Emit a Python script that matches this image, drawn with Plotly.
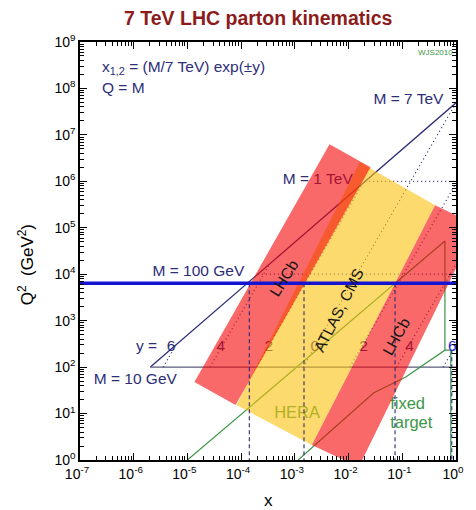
import numpy as np
import plotly.graph_objects as go

# ---------------- data ----------------
# kinematic limit Q^2 = x s  (s = (7 TeV)^2)
kin_x = [2.04e-6, 1.0]
kin_q2 = [100, 4.9e7]

# horizontal mass lines (Q = M)
m10_x = [2.04e-6, 1.0]
m10_q2 = [100, 100]
m100_x = [2.04e-4, 1.0]
m100_q2 = [1e4, 1e4]
m1000_x = [0.0204, 1.0]
m1000_q2 = [1e6, 1e6]

# lines of constant rapidity y = 6,4,2,0,-2,-4,-6
rap_labels = ["6", "4", "2", "0", "2", "4", "6"]
rap_x0 = [3.54e-6, 2.62e-5, 1.93e-4, 1.43e-3, 0.01056, 0.078, 0.576]
rap_x1 = [6.14e-6, 3.35e-4, 0.0183, 1.0, 1.0, 1.0, 1.0]
rap_q0 = [100, 100, 100, 100, 100, 100, 100]
rap_q1 = [301, 1.64e4, 8.97e5, 4.9e7, 8.97e5, 1.64e4, 301]
rap_lab_x = [4.94e-6, 4.2e-5, 3.27e-4, 2.36e-3, 0.0191, 0.137, 0.85]
rap_lab_q2 = [265, 265, 265, 265, 265, 265, 265]

# HERA and fixed-target boundaries
hera_x = [1e-5, 0.622, 0.622]
hera_q2 = [1, 5.2e4, 232]
ft_x = [1.15e-3, 0.0291, 0.116, 0.622, 0.80, 0.80]
ft_q2 = [1, 27.6, 61, 232, 232, 1]

# acceptance bands (corners)
lhcb_bwd_x = [1.35e-5, 4.42e-3, 0.0257, 7.87e-5]
lhcb_bwd_q2 = [47.6, 6.25e6, 2.0e6, 15.2]
atlas_x = [8.2e-5, 0.0162, 0.409, 2.07e-3]
atlas_q2 = [15.2, 2.56e6, 3.05e5, 2.1]
lhcb_fwd_x = [2.07e-3, 0.409, 2.48, 0.0155]
lhcb_fwd_q2 = [2.1, 3.05e5, 1.13e5, 0.707]

# W mass line and its dashed x markers
w_q2 = 6400
w_x = [1e-7, 1.0]
wdash_x = [1.42e-4, 1.48e-3, 0.0733]
wdash_q2 = [6400, 1]
edge_dash_x = 0.835
edge_dash_q2 = [232, 1]

# text labels (placed at data positions)
mlab_text = ["M = 10 GeV", "y =", "M = 100 GeV", "M = 1 TeV", "M = 7 TeV"]
mlab_x = [1.07e-6, 1.73e-6, 1.6e-5, 2.67e-3, 0.13]
mlab_q2 = [52.6, 265, 1.1e4, 1.05e6, 5.5e7]

hera_lab = ("HERA", 1.1e-3, 9.76)
ft_lab_text = ["fixed", "target"]
ft_lab_x = [0.0594, 0.0594]
ft_lab_q2 = [15.2, 5.95]

band_labels = [("LHCb", 6.15e-4, 8.2e3, -58), ("ATLAS, CMS", 6.44e-3, 1.68e3, -63),
               ("LHCb", 0.0764, 464, -61)]

x_tickvals = [1e-7, 1e-6, 1e-5, 1e-4, 1e-3, 1e-2, 1e-1, 1]
x_ticktext = ["10<sup>-7</sup>", "10<sup>-6</sup>", "10<sup>-5</sup>", "10<sup>-4</sup>",
              "10<sup>-3</sup>", "10<sup>-2</sup>", "10<sup>-1</sup>", "10<sup>0</sup>"]
y_tickvals = [1, 1e1, 1e2, 1e3, 1e4, 1e5, 1e6, 1e7, 1e8, 1e9]
y_ticktext = ["10<sup>%d</sup>" % k for k in range(10)]

# ---------------- styling ----------------
FONT = "Liberation Sans"
NAVY = "#2d2d78"
GREEN = "#3c9646"
DOT = "1px,3px"

fig = go.Figure()


def add_line(x, y, color, width=1.2, dash=None):
    fig.add_trace(go.Scatter(x=x, y=y, mode="lines",
                             line=dict(color=color, width=width, dash=dash),
                             hoverinfo="skip", showlegend=False))


# lines beneath the bands
add_line(kin_x, kin_q2, NAVY, 1.3)
add_line(m10_x, m10_q2, "#5a5a7a", 1.2)
add_line(m100_x, m100_q2, NAVY, 1.2, DOT)
add_line(m1000_x, m1000_q2, NAVY, 1.2, DOT)
for i in range(len(rap_labels)):
    add_line([rap_x0[i], rap_x1[i]], [rap_q0[i], rap_q1[i]], NAVY, 1.2, DOT)
add_line(hera_x, hera_q2, GREEN, 1.2)
add_line(ft_x, ft_q2, GREEN, 1.2)

# labels beneath the bands (so that they get tinted)
fig.add_trace(go.Scatter(x=mlab_x, y=mlab_q2, mode="text", text=mlab_text,
                         textfont=dict(family=FONT, size=15.5, color=NAVY),
                         hoverinfo="skip", showlegend=False, cliponaxis=False))
rap_colors = [NAVY] * 6 + ["#2222cc"]
fig.add_trace(go.Scatter(x=rap_lab_x, y=rap_lab_q2, mode="text", text=rap_labels,
                         textfont=dict(family=FONT, size=15.5, color=rap_colors),
                         hoverinfo="skip", showlegend=False, cliponaxis=False))
fig.add_trace(go.Scatter(x=[hera_lab[1]], y=[hera_lab[2]], mode="text", text=[hera_lab[0]],
                         textfont=dict(family=FONT, size=16.5, color=GREEN),
                         hoverinfo="skip", showlegend=False))
fig.add_trace(go.Scatter(x=ft_lab_x, y=ft_lab_q2, mode="text", text=ft_lab_text,
                         textposition="middle right",
                         textfont=dict(family=FONT, size=16.5, color=GREEN),
                         hoverinfo="skip", showlegend=False))

# bands
for bx, by, col in [(atlas_x, atlas_q2, "rgba(252,193,13,0.6)"),
                    (lhcb_bwd_x, lhcb_bwd_q2, "rgba(245,5,5,0.6)"),
                    (lhcb_fwd_x, lhcb_fwd_q2, "rgba(245,5,5,0.6)")]:
    fig.add_trace(go.Scatter(x=bx + [bx[0]], y=by + [by[0]], mode="lines", fill="toself",
                             fillcolor=col, line=dict(width=0, color=col),
                             hoverinfo="skip", showlegend=False))

# lines on top
for xv in wdash_x:
    add_line([xv, xv], wdash_q2, "#2a2a70", 1.1, "4px,3px")
add_line([edge_dash_x, edge_dash_x], edge_dash_q2, "#2a2a90", 1.1, "4px,3px")
add_line(w_x, [w_q2, w_q2], "#1414d2", 3.5)

annotations = []
for txt, ax_, ay_, ang in band_labels:
    annotations.append(dict(x=np.log10(ax_), y=np.log10(ay_), xref="x", yref="y", text=txt,
                            textangle=ang, showarrow=False, xanchor="center", yanchor="middle",
                            font=dict(family=FONT, size=15.5, color="#151515")))

annotations += [
    dict(x=0.474, y=1.058, xref="paper", yref="paper", showarrow=False,
         xanchor="center", yanchor="middle",
         text="<b>7 TeV LHC parton kinematics</b>",
         font=dict(family=FONT, size=19.5, color="#8c1c1c")),
    dict(x=-0.143, y=0.4665, xref="paper", yref="paper", showarrow=False, textangle=-90,
         xanchor="center", yanchor="middle",
         text="Q<sup>2</sup>  (GeV<sup>2</sup>)", font=dict(family=FONT, size=17, color="black")),
    dict(x=0.5, y=-0.096, xref="paper", yref="paper", showarrow=False, text="x",
         xanchor="center", yanchor="middle",
         font=dict(family=FONT, size=17, color="black")),
    dict(x=0.052, y=0.938, xref="paper", yref="paper", showarrow=False,
         xanchor="left", yanchor="middle",
         text="x<sub>1,2</sub> = (M/7 TeV) exp(±y)", font=dict(family=FONT, size=15.5, color=NAVY)),
    dict(x=0.052, y=0.89, xref="paper", yref="paper", showarrow=False,
         xanchor="left", yanchor="middle",
         text="Q = M", font=dict(family=FONT, size=15.5, color=NAVY)),
    dict(x=0.997, y=0.976, xref="paper", yref="paper", showarrow=False,
         xanchor="right", yanchor="middle",
         text="WJS2010", font=dict(family=FONT, size=8, color="#3c9646")),
]

minor_x = [m * 10.0 ** e for e in range(-7, 0) for m in range(2, 10)]
minor_y = [m * 10.0 ** e for e in range(0, 9) for m in range(2, 10)]

axis_common = dict(type="log", showgrid=False, zeroline=False, showline=True,
                   linecolor="black", linewidth=1.5, mirror="allticks",
                   ticks="inside", ticklen=7, tickwidth=1.2, tickcolor="black",
                   tickfont=dict(family=FONT, size=14, color="black"),
                   tickmode="array")

# the page body adds an 8px offset, so the figure is 8px smaller on each axis
fig.update_layout(
    width=468, height=502,
    margin=dict(l=72, r=12, t=34, b=50),
    paper_bgcolor="white", plot_bgcolor="white",
    showlegend=False,
    xaxis=dict(axis_common, range=[-7, 0], tickvals=x_tickvals, ticktext=x_ticktext,
               ticklabelshift=-3,
               minor=dict(ticks="inside", ticklen=4, tickwidth=1, tickcolor="black",
                          tickvals=minor_x, showgrid=False)),
    yaxis=dict(axis_common, range=[0, 9], tickvals=y_tickvals, ticktext=y_ticktext,
               minor=dict(ticks="inside", ticklen=4, tickwidth=1, tickcolor="black",
                          tickvals=minor_y, showgrid=False)),
    annotations=annotations,
)

fig.write_html("out.html")
